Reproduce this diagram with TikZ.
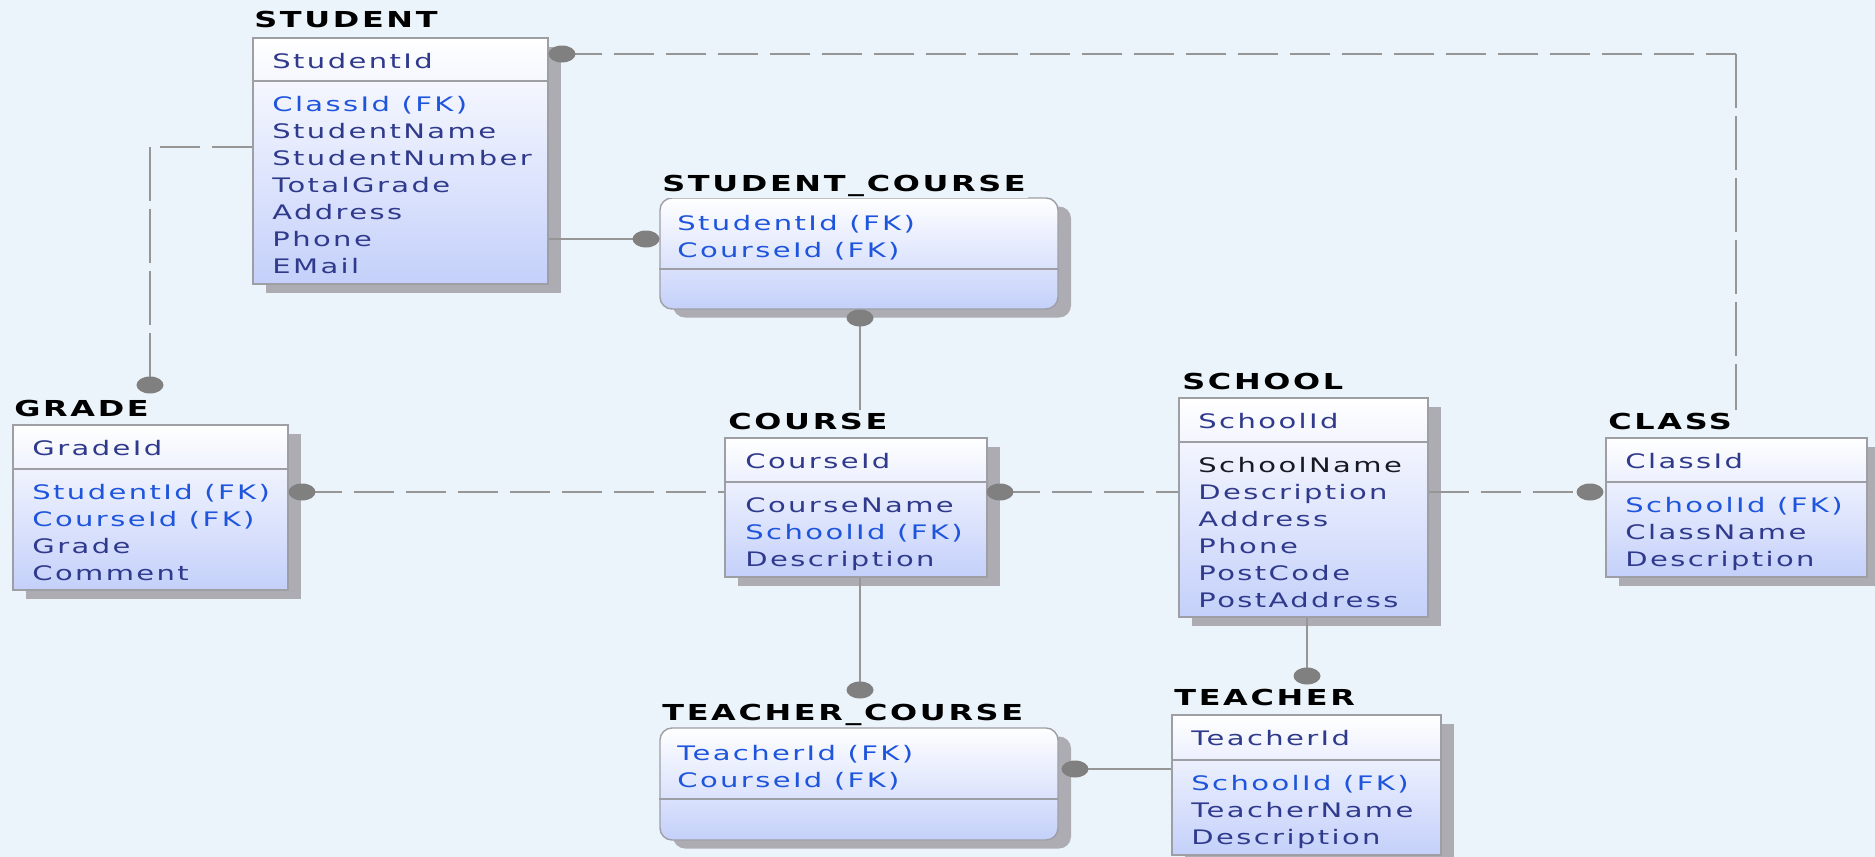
\documentclass[tikz,border=0pt]{standalone}
\usepackage{fontspec}
\newfontfamily\erfont{DejaVu Sans}[FakeStretch=1.45,LetterSpace=12]
\usetikzlibrary{fit,shadows}

\definecolor{bgc}{RGB}{236,244,251}
\definecolor{boxc}{RGB}{158,158,165}
\definecolor{shc}{RGB}{172,172,178}
\definecolor{botc}{RGB}{196,208,250}
\definecolor{attrc}{RGB}{48,58,140}
\definecolor{fkc}{RGB}{30,85,220}
\definecolor{blkc}{RGB}{25,25,35}
\definecolor{linec}{RGB}{150,150,150}
\definecolor{dotc}{RGB}{128,128,128}

\begin{document}
\begin{tikzpicture}[x=0.5pt,y=-0.5pt,
    entity/.style={draw=boxc,line width=0.7pt,inner sep=0pt,top color=white,bottom color=botc,
      drop shadow={shadow xshift=6.5pt,shadow yshift=-4.25pt,fill=shc,opacity=1}},
    assoc/.style={entity,rounded corners=6pt},
    sepline/.style={draw=boxc,line width=0.7pt},
    tname/.style={anchor=base west,inner sep=1pt,fill=bgc,font=\erfont\bfseries\fontsize{11}{13}\selectfont},
    attr/.style={anchor=base west,inner sep=0pt,text=attrc,font=\erfont\fontsize{10}{12}\selectfont},
    fkattr/.style={attr,text=fkc},
    blk/.style={attr,text=blkc},
    idrel/.style={draw=linec,line width=1pt},
    nidrel/.style={idrel,dash pattern=on 20pt off 6pt},
    vnidrel/.style={idrel,dash pattern=on 27pt off 4pt},
    enddot/.style={fill=dotc}]
  \useasboundingbox (0,0) rectangle (1875,857);
  \fill[bgc] (0,0) rectangle (1875,857);

  % end points of the relationships
  \coordinate (d1) at (562,54);
  \coordinate (b1) at (1736,54);
  \coordinate (b2) at (150,147);
  \coordinate (d2) at (150,385);
  \coordinate (d3) at (646,239);
  \coordinate (d4) at (860,318);
  \coordinate (d5) at (302,492);
  \coordinate (d6) at (1000,492);
  \coordinate (d7) at (1590,492);
  \coordinate (d8) at (860,690);
  \coordinate (d9) at (1307,676);
  \coordinate (d10) at (1075,769);

  % STUDENT
  \node[entity,fit={(253,38) (548,284)}] (student) {};
  \draw[sepline] (student.west |- 0,81) -- (student.east |- 0,81);
  \node[tname] (student-t) at (252,27) {STUDENT};
  \node[attr] (student-pk) at (272,68) {StudentId};
  \foreach \s/\t [count=\i from 0] in {fkattr/ClassId (FK),attr/StudentName,attr/StudentNumber,
      attr/TotalGrade,attr/Address,attr/Phone,attr/EMail}
    \node[\s] (student-\i) at (272,{111+27*\i}) {\t};

  % GRADE
  \node[entity,fit={(13,425) (288,590)}] (grade) {};
  \draw[sepline] (grade.west |- 0,469) -- (grade.east |- 0,469);
  \node[tname] (grade-t) at (12,416) {GRADE};
  \node[attr] (grade-pk) at (32,455) {GradeId};
  \foreach \s/\t [count=\i from 0] in {fkattr/StudentId (FK),fkattr/CourseId (FK),attr/Grade,attr/Comment}
    \node[\s] (grade-\i) at (32,{499+27*\i}) {\t};

  % COURSE
  \node[entity,fit={(725,438) (987,577)}] (course) {};
  \draw[sepline] (course.west |- 0,482) -- (course.east |- 0,482);
  \node[tname] (course-t) at (726,429) {COURSE};
  \node[attr] (course-pk) at (745,468) {CourseId};
  \foreach \s/\t [count=\i from 0] in {attr/CourseName,fkattr/SchoolId (FK),attr/Description}
    \node[\s] (course-\i) at (745,{512+27*\i}) {\t};

  % SCHOOL
  \node[entity,fit={(1179,398) (1428,617)}] (school) {};
  \draw[sepline] (school.west |- 0,442) -- (school.east |- 0,442);
  \node[tname] (school-t) at (1180,389) {SCHOOL};
  \node[attr] (school-pk) at (1198,428) {SchoolId};
  \foreach \s/\t [count=\i from 0] in {blk/SchoolName,attr/Description,attr/Address,attr/Phone,
      attr/PostCode,attr/PostAddress}
    \node[\s] (school-\i) at (1198,{472+27*\i}) {\t};

  % CLASS
  \node[entity,fit={(1606,438) (1867,577)}] (class) {};
  \draw[sepline] (class.west |- 0,482) -- (class.east |- 0,482);
  \node[tname] (class-t) at (1606,429) {CLASS};
  \node[attr] (class-pk) at (1625,468) {ClassId};
  \foreach \s/\t [count=\i from 0] in {fkattr/SchoolId (FK),attr/ClassName,attr/Description}
    \node[\s] (class-\i) at (1625,{512+27*\i}) {\t};

  % TEACHER
  \node[entity,fit={(1172,715) (1441,855)}] (teacher) {};
  \draw[sepline] (teacher.west |- 0,760) -- (teacher.east |- 0,760);
  \node[tname] (teacher-t) at (1172,705) {TEACHER};
  \node[attr] (teacher-pk) at (1191,745) {TeacherId};
  \foreach \s/\t [count=\i from 0] in {fkattr/SchoolId (FK),attr/TeacherName,attr/Description}
    \node[\s] (teacher-\i) at (1191,{790+27*\i}) {\t};

  % STUDENT_COURSE
  \node[assoc,fit={(660,198) (1058,309)}] (stucourse) {};
  \draw[sepline] (stucourse.west |- 0,269) -- (stucourse.east |- 0,269);
  \node[tname] (stucourse-t) at (660,191) {STUDENT\_COURSE};
  \foreach \s/\t [count=\i from 0] in {fkattr/StudentId (FK),fkattr/CourseId (FK)}
    \node[\s] (stucourse-\i) at (677,{230+27*\i}) {\t};

  % TEACHER_COURSE
  \node[assoc,fit={(660,728) (1058,840)}] (teacourse) {};
  \draw[sepline] (teacourse.west |- 0,799) -- (teacourse.east |- 0,799);
  \node[tname] (teacourse-t) at (660,720) {TEACHER\_COURSE};
  \foreach \s/\t [count=\i from 0] in {fkattr/TeacherId (FK),fkattr/CourseId (FK)}
    \node[\s] (teacourse-\i) at (677,{760+27*\i}) {\t};

  % relationships
  \draw[nidrel] (d1) -- (b1);
  \draw[vnidrel] (b1) -- (class-t.north -| b1);
  \draw[nidrel] (student.west |- b2) -- (b2);
  \draw[vnidrel] (b2) -- (d2);
  \draw[idrel] (student.east |- d3) -- (d3);
  \draw[idrel] (d4) -- (course-t.north -| d4);
  \draw[nidrel] (d5) -- (d5 -| course.west);
  \draw[nidrel] (d6) -- (d6 -| school.west);
  \draw[nidrel] (school.east |- d7) -- (d7);
  \draw[idrel] (course.south -| d8) -- (d8);
  \draw[vnidrel] (school.south -| d9) -- (d9);
  \draw[idrel] (d10) -- (d10 -| teacher.west);
  \foreach \d in {d1,d2,d3,d4,d5,d6,d7,d8,d9,d10}
    \fill[enddot] (\d) ellipse [x radius=6.75pt,y radius=4.25pt];
\end{tikzpicture}
\end{document}
